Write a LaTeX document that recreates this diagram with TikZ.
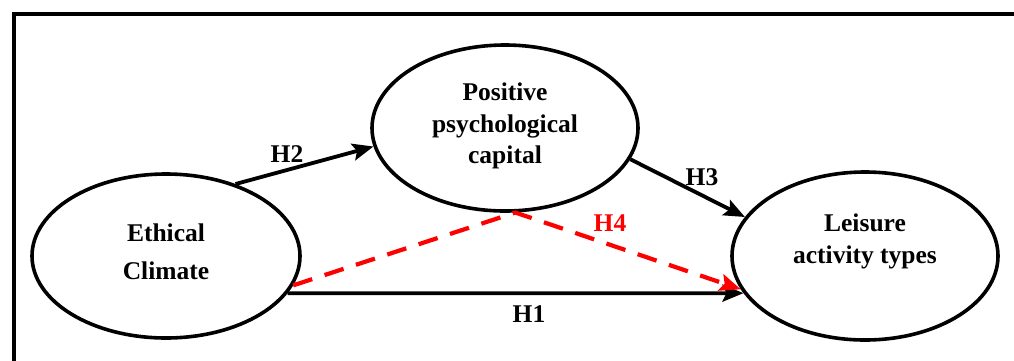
\documentclass[tikz,border=0pt]{standalone}
\usepackage{fontspec}
\setmainfont{Liberation Serif}
\usetikzlibrary{shapes.geometric,arrows.meta}
\begin{document}
\begin{tikzpicture}[x=1pt,y=-1pt,
  construct/.style={draw=black,line width=3.6pt,ellipse,inner sep=0pt},
  lbl/.style={font=\fontsize{25.5}{32}\selectfont\bfseries,align=center,inner sep=0pt},
  hyp/.style={font=\fontsize{25.5}{32}\selectfont\bfseries,inner sep=0pt},
  path/.style={draw=black,line width=3.8pt,-{Stealth[length=21pt,width=17pt,inset=4pt]}},
  med/.style={draw=red,line width=4.2pt,dash pattern=on 20pt off 13pt,-{Stealth[length=21pt,width=17pt,inset=4pt]}}
]
\useasboundingbox (0,0) rectangle (1014,360);
\draw[line width=3.8pt] (14,362) -- (14,14) -- (1016,14);

\node[construct,minimum width=268pt,minimum height=164pt] (eth) at (166,256) {};
\node[construct,minimum width=266pt,minimum height=166pt] (pos) at (505,128) {};
\node[construct,minimum width=266pt,minimum height=168pt] (lei) at (865,256) {};

\node[lbl,font=\fontsize{25.5}{38}\selectfont\bfseries] (ethT) at (166,252) {Ethical\\Climate};
\node[lbl,font=\fontsize{25.5}{31.5}\selectfont\bfseries] (posT) at (505,126) {Positive\\psychological\\capital};
\node[lbl] (leiT) at (865,241) {Leisure\\activity types};

\draw[path] (eth.46) -- (pos.188.8);
\draw[path] (pos.-14.7) -- (lei.162);
\draw[path] (eth.-17) -- (lei.197.3);
\draw[med] (eth.-13.4) -- (pos.-83) -- (lei.195.3);

\node[hyp] (h2) at (287,154) {H2};
\node[hyp] (h3) at (702,177) {H3};
\node[hyp] (h1) at (529,314) {H1};
\node[hyp,text=red] (h4) at (610,223) {H4};
\end{tikzpicture}
\end{document}
